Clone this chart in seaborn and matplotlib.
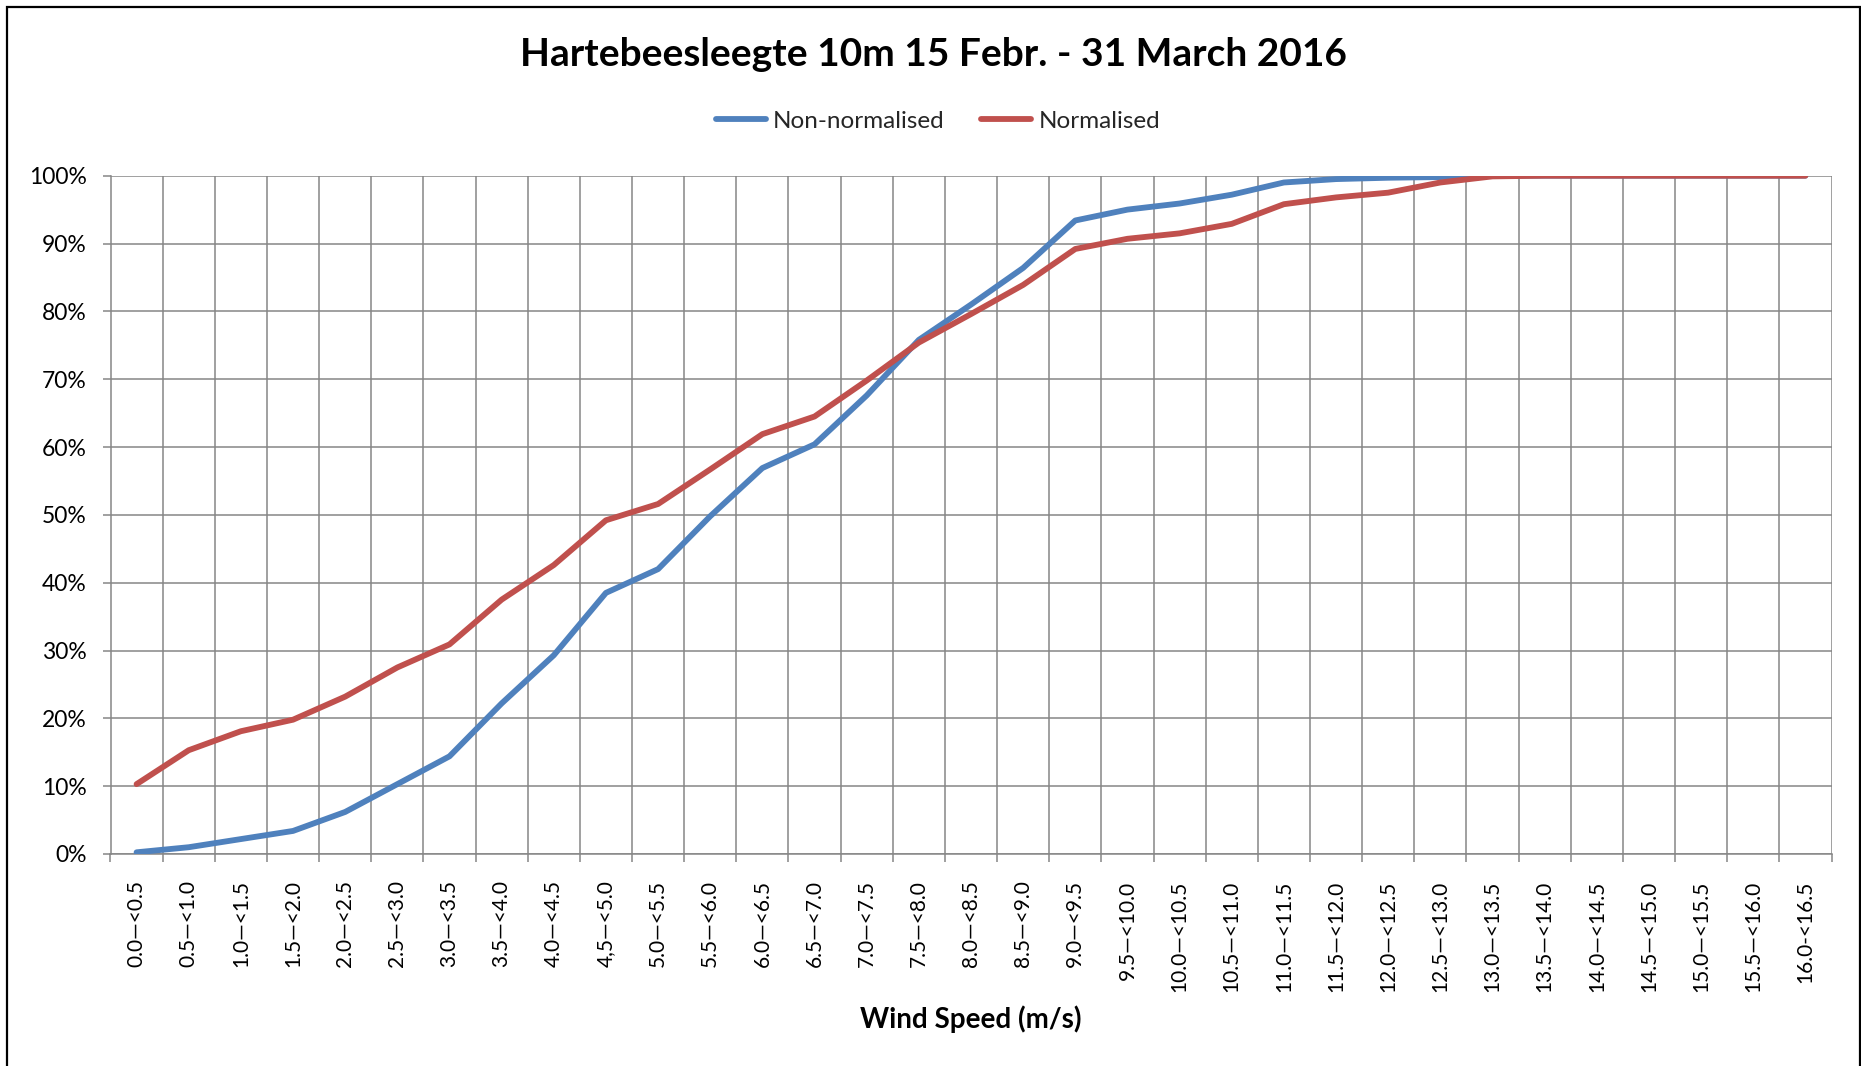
import matplotlib
matplotlib.use("Agg")
import matplotlib.pyplot as plt
from matplotlib.patches import Rectangle
from matplotlib.ticker import FixedLocator, PercentFormatter
import numpy as np
import pandas as pd
import seaborn as sns

# Wind speed bins (m/s)
bins = [
    "0.0—<0.5", "0.5—<1.0", "1.0—<1.5", "1.5—<2.0", "2.0—<2.5", "2.5—<3.0",
    "3.0—<3.5", "3.5—<4.0", "4.0—<4.5", "4,5—<5.0", "5.0—<5.5", "5.5—<6.0",
    "6.0—<6.5", "6.5—<7.0", "7.0—<7.5", "7.5—<8.0", "8.0—<8.5", "8.5—<9.0",
    "9.0—<9.5", "9.5—<10.0", "10.0—<10.5", "10.5—<11.0", "11.0—<11.5",
    "11.5—<12.0", "12.0—<12.5", "12.5—<13.0", "13.0—<13.5", "13.5—<14.0",
    "14.0—<14.5", "14.5—<15.0", "15.0—<15.5", "15.5—<16.0", "16.0-<16.5",
]

# Cumulative frequency (%)
non_normalised = [
    0.25, 1.0, 2.2, 3.4, 6.2, 10.3, 14.4, 22.2, 29.3, 38.5, 42.0, 49.8, 56.9,
    60.4, 67.6, 75.8, 81.0, 86.4, 93.4, 95.0, 95.9, 97.2, 99.0, 99.5, 99.7,
    99.8, 100, 100, 100, 100, 100, 100, 100,
]
normalised = [
    10.3, 15.3, 18.1, 19.8, 23.2, 27.5, 30.9, 37.5, 42.6, 49.2, 51.6, 56.7,
    61.9, 64.5, 69.8, 75.4, 79.6, 83.9, 89.2, 90.7, 91.5, 92.9, 95.8, 96.8,
    97.5, 99.0, 99.9, 100, 100, 100, 100, 100, 100,
]

series_names = ["Non-normalised", "Normalised"]
series_colors = ["#4F81BD", "#C0504D"]

pos = np.arange(len(bins))
df = pd.concat([
    pd.DataFrame({"pos": pos, "value": np.array(non_normalised) / 100.0,
                  "series": series_names[0]}),
    pd.DataFrame({"pos": pos, "value": np.array(normalised) / 100.0,
                  "series": series_names[1]}),
], ignore_index=True)

sns.set_theme(style="white")
plt.rcParams["font.family"] = ["Lato", "DejaVu Sans"]

W, H = 1861, 1066
fig = plt.figure(figsize=(W / 100, H / 100), dpi=100)
fig.patch.set_facecolor("white")

left, right, top, bottom = 110.5, 1831.5, 175.7, 854.0
ax = fig.add_axes([left / W, 1 - bottom / H, (right - left) / W, (bottom - top) / H])

grid_col = "#868686"
line_w = 4.2

sns.lineplot(data=df, x="pos", y="value", hue="series", hue_order=series_names,
             palette=series_colors, linewidth=line_w, ax=ax, legend=False,
             solid_capstyle="round", zorder=3)

ax.set_xlim(-0.5, len(bins) - 0.5)
ax.set_ylim(0, 1)

# Category labels at bin centres, tick marks and grid on bin boundaries
ax.xaxis.set_major_locator(FixedLocator(pos))
ax.set_xticklabels(bins, rotation=90, fontsize=15, color="black")
ax.xaxis.set_minor_locator(FixedLocator(np.arange(len(bins) + 1) - 0.5))
ax.tick_params(axis="x", which="major", length=0, pad=19)
ax.tick_params(axis="x", which="minor", length=6, width=1.1, color=grid_col,
               direction="out", bottom=True)
ax.grid(True, axis="x", which="minor", color=grid_col, linewidth=1.1)
ax.grid(False, axis="x", which="major")

ax.yaxis.set_major_locator(FixedLocator(np.linspace(0, 1, 11)))
ax.yaxis.set_major_formatter(PercentFormatter(xmax=1, decimals=0))
ax.tick_params(axis="y", which="major", length=6, width=1.1, color=grid_col,
               direction="out", left=True, pad=11, labelsize=16.5, labelcolor="black")
ax.grid(True, axis="y", which="major", color=grid_col, linewidth=1.1)
ax.set_axisbelow(True)

for side in ["top", "right"]:
    ax.spines[side].set_visible(False)
for side in ["left", "bottom"]:
    ax.spines[side].set_color(grid_col)
    ax.spines[side].set_linewidth(1.1)

ax.set_xlabel("")
ax.set_ylabel("")

fig.text(933 / W, 1 - 54 / H, "Hartebeesleegte 10m 15 Febr. - 31 March 2016",
         ha="center", va="center", fontsize=28, fontweight="bold", color="black")
fig.text(971 / W, 1 - 1019 / H, "Wind Speed (m/s)",
         ha="center", va="center", fontsize=20, fontweight="bold", color="black")

handles = [plt.Line2D([], [], color=c, linewidth=line_w, solid_capstyle="round")
           for c in series_colors]
fig.legend(handles, series_names, loc="center", ncol=2,
           bbox_to_anchor=(938 / W, 1 - 121 / H), frameon=False, fontsize=17.5,
           handlelength=2.05, handletextpad=0.3, columnspacing=1.5)

# Outer chart border
fig.add_artist(Rectangle((6.5 / W, -0.2), (1859.5 - 6.5) / W, 1.2 - 6.5 / H,
                         transform=fig.transFigure, fill=False,
                         edgecolor="black", linewidth=1.6, clip_on=False))

fig.savefig("out.png", dpi=100, facecolor="white")
